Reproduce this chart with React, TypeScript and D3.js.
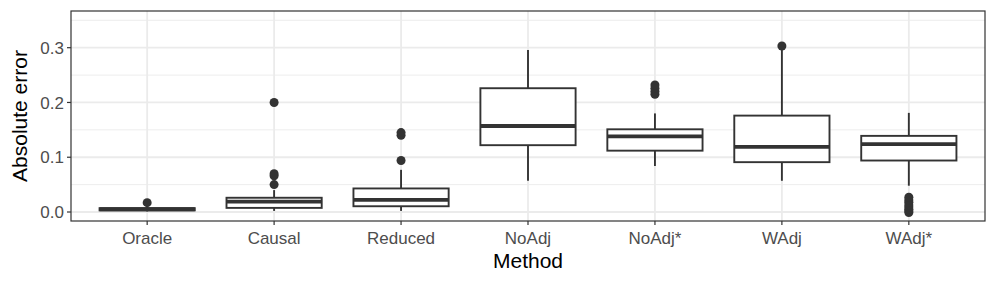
import { useEffect, useRef } from 'react';
import * as d3 from 'd3';

const methods = ['Oracle', 'Causal', 'Reduced', 'NoAdj', 'NoAdj*', 'WAdj', 'WAdj*'];
const lowerWhisker = [0.001, 0.002, 0.002, 0.057, 0.084, 0.057, 0.048];
const q1 = [0.003, 0.0075, 0.0105, 0.122, 0.112, 0.091, 0.094];
const median = [0.005, 0.019, 0.022, 0.157, 0.138, 0.119, 0.124];
const q3 = [0.007, 0.026, 0.043, 0.226, 0.151, 0.176, 0.139];
const upperWhisker = [0.011, 0.040, 0.077, 0.296, 0.180, 0.296, 0.181];
const outliers: number[][] = [
  [0.017],
  [0.050, 0.066, 0.070, 0.200],
  [0.094, 0.140, 0.145],
  [],
  [0.215, 0.220, 0.226, 0.232],
  [0.303],
  [-0.001, 0.002, 0.005, 0.009, 0.013, 0.018, 0.022, 0.027],
];
const yTicks = [0, 0.1, 0.2, 0.3];
const yMinor = [0.05, 0.15, 0.25, 0.35];

const W = 996;
const H = 285;
const margin = { left: 71, right: 11, top: 11, bottom: 64 };

const App = () => {
  const ref = useRef<SVGSVGElement | null>(null);

  useEffect(() => {
    if (!ref.current) return;
    const svg = d3.select(ref.current);
    svg.selectAll('*').remove();

    const x0 = margin.left;
    const x1 = W - margin.right;
    const y0 = H - margin.bottom;
    const y1 = margin.top;

    // discrete axis with ggplot's 0.6 expansion on each side
    const x = d3.scaleLinear().domain([-0.6, methods.length - 1 + 0.6]).range([x0, x1]);
    const y = d3.scaleLinear().domain([-0.01643, 0.367]).range([y0, y1]);
    const unit = x(1) - x(0);
    const boxW = unit * 0.75;
    const lw = 1.9;

    const grid = svg.append('g');
    yMinor.forEach(v => {
      grid.append('line')
        .attr('x1', x0).attr('x2', x1).attr('y1', y(v)).attr('y2', y(v))
        .attr('stroke', '#EBEBEB').attr('stroke-width', 0.9);
    });
    yTicks.forEach(v => {
      grid.append('line')
        .attr('x1', x0).attr('x2', x1).attr('y1', y(v)).attr('y2', y(v))
        .attr('stroke', '#EBEBEB').attr('stroke-width', 1.8);
    });
    methods.forEach((_, i) => {
      grid.append('line')
        .attr('x1', x(i)).attr('x2', x(i)).attr('y1', y0).attr('y2', y1)
        .attr('stroke', '#EBEBEB').attr('stroke-width', 1.8);
    });

    const boxes = svg.append('g');
    methods.forEach((_, i) => {
      const cx = x(i);
      const g = boxes.append('g');
      g.append('line')
        .attr('x1', cx).attr('x2', cx).attr('y1', y(q3[i])).attr('y2', y(upperWhisker[i]))
        .attr('stroke', '#333333').attr('stroke-width', lw);
      g.append('line')
        .attr('x1', cx).attr('x2', cx).attr('y1', y(q1[i])).attr('y2', y(lowerWhisker[i]))
        .attr('stroke', '#333333').attr('stroke-width', lw);
      g.append('rect')
        .attr('x', cx - boxW / 2).attr('width', boxW)
        .attr('y', y(q3[i])).attr('height', Math.max(0, y(q1[i]) - y(q3[i])))
        .attr('fill', 'white').attr('stroke', '#333333').attr('stroke-width', lw);
      g.append('line')
        .attr('x1', cx - boxW / 2).attr('x2', cx + boxW / 2)
        .attr('y1', y(median[i])).attr('y2', y(median[i]))
        .attr('stroke', '#333333').attr('stroke-width', lw * 2);
      outliers[i].forEach(v => {
        g.append('circle')
          .attr('cx', cx).attr('cy', y(v)).attr('r', 4.5)
          .attr('fill', '#333333');
      });
    });

    svg.append('rect')
      .attr('x', x0).attr('y', y1).attr('width', x1 - x0).attr('height', y0 - y1)
      .attr('fill', 'none').attr('stroke', '#333333').attr('stroke-width', 1.2);

    const font = 'Liberation Sans, Arial, sans-serif';

    yTicks.forEach(v => {
      svg.append('line')
        .attr('x1', x0 - 4).attr('x2', x0).attr('y1', y(v)).attr('y2', y(v))
        .attr('stroke', '#333333').attr('stroke-width', 1.2);
      svg.append('text')
        .attr('x', x0 - 7).attr('y', y(v)).attr('dy', '0.36em')
        .attr('text-anchor', 'end')
        .style('font-family', font).style('font-size', '17px').style('fill', '#4D4D4D')
        .text(d3.format('.1f')(v));
    });

    methods.forEach((m, i) => {
      svg.append('line')
        .attr('x1', x(i)).attr('x2', x(i)).attr('y1', y0).attr('y2', y0 + 4)
        .attr('stroke', '#333333').attr('stroke-width', 1.2);
      svg.append('text')
        .attr('x', x(i)).attr('y', y0 + 23)
        .attr('text-anchor', 'middle')
        .style('font-family', font).style('font-size', '17px').style('fill', '#4D4D4D')
        .text(m);
    });

    svg.append('text')
      .attr('x', (x0 + x1) / 2).attr('y', 268)
      .attr('text-anchor', 'middle')
      .style('font-family', font).style('font-size', '21px').style('fill', '#000')
      .text('Method');

    svg.append('text')
      .attr('transform', `translate(27, ${(y0 + y1) / 2}) rotate(-90)`)
      .attr('text-anchor', 'middle')
      .style('font-family', font).style('font-size', '21px').style('fill', '#000')
      .text('Absolute error');
  }, []);

  return (
    <svg
      ref={ref}
      width={W}
      height={H}
      style={{ position: 'absolute', left: 0, top: 0, background: 'white' }}
    />
  );
};

export default App;
